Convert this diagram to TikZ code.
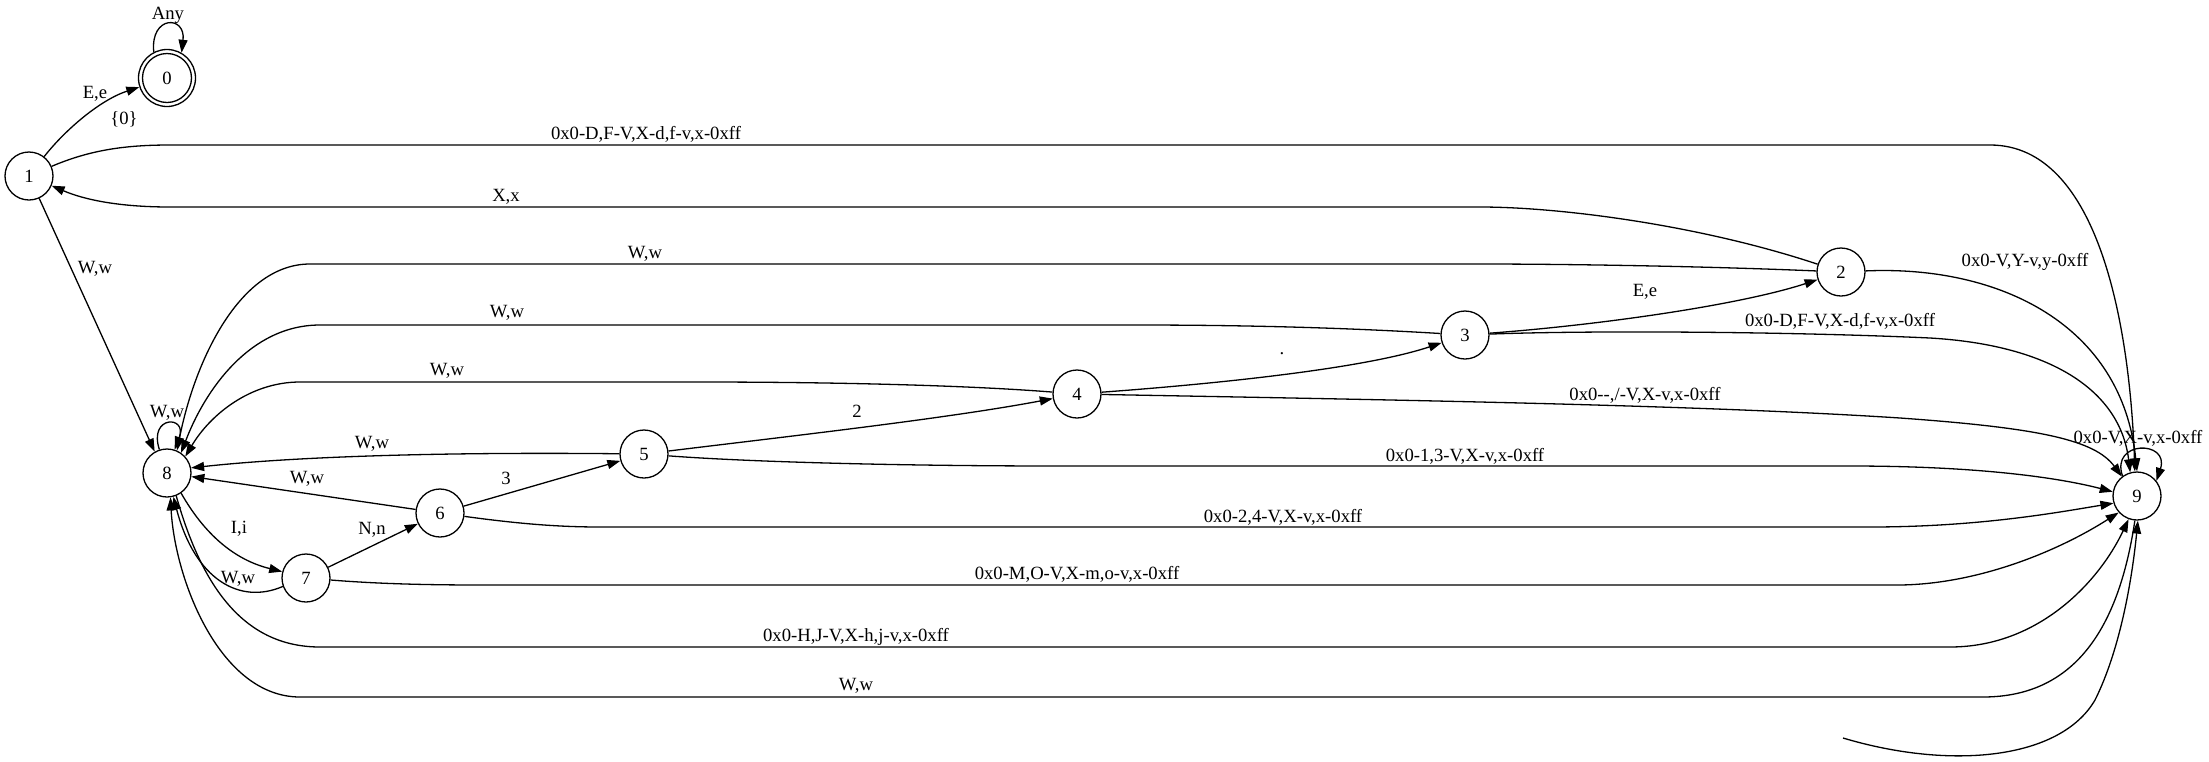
\documentclass[tikz,border=0pt]{standalone}
\usepackage{fontspec}
\setmainfont{Liberation Serif}
\usetikzlibrary{arrows.meta}
\newcommand\gvfont{\fontsize{18.67}{20}\selectfont}
\begin{document}
\begin{tikzpicture}[x=1pt,y=-1pt,
  st/.style={draw, circle, minimum size=48pt, inner sep=0pt, line width=1.3pt, font=\gvfont},
  lbl/.style={inner sep=0pt, font=\gvfont},
  ed/.style={draw, line width=1.3pt, -{Triangle[length=13pt,width=9pt]}},
]
\fill[white] (0,0) rectangle (2209,761);
\useasboundingbox (0,0) rectangle (2209,761);

% states
\node[st, minimum size=57pt] (n0) at (167,78) {0};
\draw[line width=1.3pt] (n0.center) circle (24.5pt);
\node[st] (n1) at (29,176) {1};
\node[st] (n2) at (1841,272) {2};
\node[st] (n3) at (1465,335) {3};
\node[st] (n4) at (1077,394) {4};
\node[st] (n5) at (644,454) {5};
\node[st] (n6) at (440,513) {6};
\node[st] (n7) at (306,578) {7};
\node[st] (n8) at (167,473) {8};
\node[st] (n9) at (2137,496) {9};
\coordinate (s9) at (1843,738);

% edges
\path[ed] (n0.117) .. controls (150,15) and (186,15) .. (n0.60);
\path[ed] (n1) .. controls (65,130) and (100,100) .. (n0);
\path[ed] (n1) .. controls (90,150) and (125,145) .. (170,145) -- (1990,145) .. controls (2100,145) and (2130,330) .. (n9.95);
\path[ed] (n2) .. controls (1700,225) and (1560,207) .. (1480,207) -- (170,207) .. controls (120,207) and (85,200) .. (n1);
\path[ed] (n1) -- (n8.120);
\path[ed] (n2) .. controls (1700,266) and (1560,264) .. (1480,264) -- (310,264) .. controls (240,264) and (195,360) .. (n8.66);
\path[ed] (n2) .. controls (2000,265) and (2122,325) .. (n9.90);
\path[ed] (n3) .. controls (1600,325) and (1740,305) .. (n2);
\path[ed] (n3) .. controls (1350,328) and (1250,325) .. (1136,325) -- (320,325) .. controls (250,325) and (205,390) .. (n8.55);
\path[ed] (n3) .. controls (1600,330) and (1800,332) .. (1930,338) .. controls (2050,345) and (2120,390) .. (n9.106);
\path[ed] (n4) .. controls (1200,385) and (1360,370) .. (n3);
\path[ed] (n4) .. controls (950,384) and (800,382) .. (700,382) -- (300,382) .. controls (250,382) and (210,415) .. (n8.42);
\path[ed] (n4) .. controls (1400,400) and (1700,405) .. (1900,418) .. controls (2040,428) and (2095,440) .. (n9.128);
\path[ed] (n5) .. controls (800,435) and (950,418) .. (n4);
\path[ed] (n5) .. controls (450,452) and (300,456) .. (n8.12);
\path[ed] (n5) .. controls (750,462) and (900,466) .. (1060,466) -- (1850,466) .. controls (1980,466) and (2060,478) .. (n9.170);
\path[ed] (n6) -- (n5);
\path[ed] (n6) -- (n8);
\path[ed] (n6) .. controls (520,524) and (560,527) .. (600,527) -- (1870,527) .. controls (1980,527) and (2060,512) .. (n9.197);
\path[ed] (n7) -- (n6);
\path[ed] (n7.200) .. controls (240,605) and (195,580) .. (n8.-75);
\path[ed] (n7) .. controls (380,584) and (430,585) .. (483,585) -- (1900,585) .. controls (1980,584) and (2060,550) .. (n9.222);
\path[ed] (n8.-55) .. controls (205,535) and (235,560) .. (n7.165);
\path[ed] (n8.108) .. controls (148,415) and (188,415) .. (n8.72);
\path[ed] (n8.-68) .. controls (200,580) and (240,647) .. (320,647) -- (1950,647) .. controls (2040,647) and (2100,580) .. (n9.-110);
\path[ed] (n9.-95) .. controls (2120,620) and (2080,697) .. (1983,697) -- (300,697) .. controls (220,697) and (175,580) .. (n8.-82);
\path[ed] (n9.126) .. controls (2110,440) and (2170,440) .. (n9.38);
\path[ed] (s9) .. controls (1950,770) and (2060,760) .. (2095,700) .. controls (2120,650) and (2132,580) .. (n9.-88);

% labels
\node[lbl] (l00) at (168,15) {Any};
\node[lbl] (l10a) at (95,94) {E,e};
\node[lbl] (l10b) at (124,119) {\{0\}};
\node[lbl] (l19) at (646,134) {0x0-D,F-V,X-d,f-v,x-0xff};
\node[lbl] (l21) at (506,197) {X,x};
\node[lbl] (l18) at (95,269) {W,w};
\node[lbl] (l28) at (645,254) {W,w};
\node[lbl] (l29) at (2025,262) {0x0-V,Y-v,y-0xff};
\node[lbl] (l32) at (1645,292) {E,e};
\node[lbl] (l38) at (507,313) {W,w};
\node[lbl] (l39) at (1840,321) {0x0-D,F-V,X-d,f-v,x-0xff};
\node[lbl] (l43) at (1282,354) {.};
\node[lbl] (l48) at (447,371) {W,w};
\node[lbl] (l49) at (1645,395) {0x0-{}-,/-V,X-v,x-0xff};
\node[lbl] (l54) at (857,411) {2};
\node[lbl] (l58) at (372,444) {W,w};
\node[lbl] (l59) at (1465,456) {0x0-1,3-V,X-v,x-0xff};
\node[lbl] (l65) at (506,478) {3};
\node[lbl] (l68) at (307,479) {W,w};
\node[lbl] (l69) at (1283,517) {0x0-2,4-V,X-v,x-0xff};
\node[lbl] (l76) at (372,530) {N,n};
\node[lbl] (l78) at (238,579) {W,w};
\node[lbl] (l79) at (1077,574) {0x0-M,O-V,X-m,o-v,x-0xff};
\node[lbl] (l87) at (239,529) {I,i};
\node[lbl] (l88) at (167,413) {W,w};
\node[lbl] (l89) at (856,637) {0x0-H,J-V,X-h,j-v,x-0xff};
\node[lbl] (l98) at (856,686) {W,w};
\node[lbl] (l99) at (2138,438) {0x0-V,X-v,x-0xff};
\end{tikzpicture}
\end{document}
